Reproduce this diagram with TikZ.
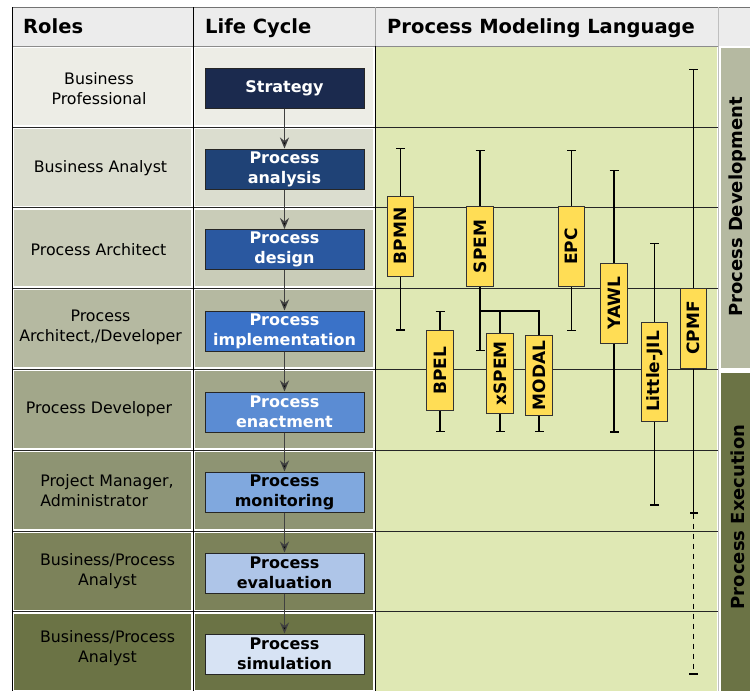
\documentclass[tikz,border=0pt]{standalone}
\usepackage{fontspec}
\setmainfont{DejaVu Sans}
\usepackage{graphicx}
\usetikzlibrary{arrows.meta}

\definecolor{hdgray}{HTML}{ECECEC}
\definecolor{rowa}{HTML}{EDEDE6}
\definecolor{rowb}{HTML}{DBDDCF}
\definecolor{rowc}{HTML}{C9CCB8}
\definecolor{rowd}{HTML}{B5B9A1}
\definecolor{rowe}{HTML}{A2A78A}
\definecolor{rowf}{HTML}{8E9473}
\definecolor{rowg}{HTML}{7C825A}
\definecolor{rowh}{HTML}{6B7345}
\definecolor{lca}{HTML}{1B2A4E}
\definecolor{lcb}{HTML}{1F4276}
\definecolor{lcc}{HTML}{2A58A0}
\definecolor{lcd}{HTML}{3A72C8}
\definecolor{lce}{HTML}{5B8CD3}
\definecolor{lcf}{HTML}{80A8DE}
\definecolor{lcg}{HTML}{AEC5E8}
\definecolor{lch}{HTML}{D7E3F4}
\definecolor{pmlgreen}{HTML}{DFE8B4}
\definecolor{langyellow}{HTML}{FFDD55}
\definecolor{devgray}{HTML}{B5B9A1}
\definecolor{exeolive}{HTML}{6B7345}

\begin{document}
\begin{tikzpicture}[x=1pt,y=-1pt,>={Stealth[length=11pt,width=9pt,fill=black]},
    box/.style={rectangle,draw=black!85,line width=1pt,minimum height=40pt,minimum width=159pt,inner sep=0pt,align=center,font=\fontsize{16}{20}\selectfont\bfseries},
    role/.style={align=center,font=\fontsize{15.8}{20}\selectfont},
    lang/.style={rectangle,draw=black!80,line width=1pt,fill=langyellow,minimum width=26.5pt,minimum height=80pt,inner sep=0pt,font=\fontsize{17}{20}\selectfont\bfseries},
    side/.style={font=\fontsize{18}{20}\selectfont\bfseries},
    head/.style={anchor=base west,inner sep=0pt,font=\fontsize{19.5}{22}\selectfont\bfseries},
    wh/.style={line width=1.3pt,-{Bar[width=9pt]}},
    link/.style={->,draw=black!75,line width=1.3pt}]
\useasboundingbox (0,0) rectangle (750,691);
\fill[white] (0,0) rectangle (750,691);
% header row
\fill[hdgray] (12,7) rectangle (750,46);
\node[head] (hroles) at (23,33.5) {Roles};
\node[head] (hlife) at (205,33.5) {Life Cycle};
\node[head] (hpml) at (387,33.5) {Process Modeling Language};
% row backgrounds
\foreach \c [count=\i from 0] in {rowa,rowb,rowc,rowd,rowe,rowf,rowg,rowh} {
  \fill[\c] (14,{46+80.8*\i+2}) rectangle (191,{46+80.8*(\i+1)-2});
  \fill[\c] (195,{46+80.8*\i+2}) rectangle (373,{46+80.8*(\i+1)-2});
}
\fill[pmlgreen] (376,47) rectangle (717,691);
\fill[devgray] (721,48) rectangle (752,368);
\fill[exeolive] (721,373) rectangle (752,693);
% grid
\draw[black!55] (12,7) -- (750,7); \draw[black!45] (12,46) -- (718,46);
\foreach \i in {1,...,7} \draw[black!85] (12,{46+80.8*\i}) -- (718,{46+80.8*\i});
\draw (12,7) -- (12,691); \draw (193,7) -- (193,691); \draw (375,46) -- (375,691);
\draw[black!35] (375,7) -- (375,46); \draw[black!25] (718,7) -- (718,691);
% roles
\node[role] (rbp) at (99,89) {Business\\Professional};
\node[role] (rba) at (100.5,168) {Business Analyst};
\node[role] (rpa) at (98.5,249.5) {Process Architect};
\node[role] (rpad) at (100.5,327) {Process\\Architect,/Developer};
\node[role] (rpd) at (99,409) {Process Developer};
\node[role,align=left] (rpm) at (107,491) {Project Manager,\\Administrator};
\node[role] (rbpa) at (107.5,571) {Business/Process\\Analyst};
\node[role] (rbps) at (107.5,648) {Business/Process\\Analyst};
% life cycle
\node[box,fill=lca,text=white] (strat) at (284.5,88) {Strategy};
\node[box,fill=lcb,text=white] (anal) at (284.5,169) {Process\\analysis};
\node[box,fill=lcc,text=white] (des) at (284.5,249.5) {Process\\design};
\node[box,fill=lcd,text=white] (impl) at (284.5,331) {Process\\implementation};
\node[box,fill=lce,text=white] (enact) at (284.5,412) {Process\\enactment};
\node[box,fill=lcf] (mon) at (284.5,492) {Process\\monitoring};
\node[box,fill=lcg] (eval) at (284.5,573) {Process\\evaluation};
\node[box,fill=lch] (sim) at (284.5,654) {Process\\simulation};
\draw[link] (strat)--(anal); \draw[link] (anal)--(des); \draw[link] (des)--(impl); \draw[link] (impl)--(enact);
\draw[link] (enact)--(mon); \draw[link] (mon)--(eval); \draw[link] (eval)--(sim);
% modeling languages
\node[lang] (bpmn) at (400.5,236) {\rotatebox{90}{BPMN}};
\node[lang] (spem) at (480,246.5) {\rotatebox{90}{SPEM}};
\node[lang] (epc) at (571.5,246.5) {\rotatebox{90}{EPC}};
\node[lang] (yawl) at (614,303) {\rotatebox{90}{YAWL}};
\node[lang,minimum height=99pt] (ljil) at (654.5,371.5) {\rotatebox{90}{Little-JIL}};
\node[lang] (cpmf) at (693.5,328) {\rotatebox{90}{CPMF}};
\node[lang] (bpel) at (440,370.5) {\rotatebox{90}{BPEL}};
\node[lang] (xspem) at (500,373.5) {\rotatebox{90}{xSPEM}};
\node[lang] (modal) at (539,375.5) {\rotatebox{90}{MODAL}};
\draw[wh] (bpmn.north) -- ++(0,-48); \draw[wh] (bpmn.south) -- ++(0,54);
\draw[wh] (spem.north) -- ++(0,-56); \draw[wh] (spem.south) -- ++(0,64);
\draw[wh] (epc.north) -- ++(0,-56); \draw[wh] (epc.south) -- ++(0,44);
\draw[wh] (yawl.north) -- ++(0,-93); \draw[wh] (yawl.south) -- ++(0,89);
\draw[wh] (ljil.north) -- ++(0,-79); \draw[wh] (ljil.south) -- ++(0,84);
\draw[wh] (bpel.north) -- ++(0,-19); \draw[wh] (bpel.south) -- ++(0,21);
\draw[wh] (xspem.south) -- ++(0,18); \draw[wh] (modal.south) -- ++(0,16);
\coordinate (brk) at (480,311);
\draw[line width=1.3pt] (brk) -| (modal.north); \draw[line width=1.3pt] (xspem.north) -- (xspem.north |- brk);
\draw[wh] (cpmf.north) -- ++(0,-219);
\draw[wh,-{Bar[width=8pt]}] (cpmf.south) -- ++(0,145) coordinate (cpmfx);
\draw[wh,dash pattern=on 5pt off 5pt] (cpmfx) -- ++(0,161);
% phases
\node[side] (dev) at (738,207) {\rotatebox{90}{Process Development}};
\node[side] (exe) at (737.5,517) {\rotatebox{90}{Process Execution}};
\end{tikzpicture}
\end{document}
